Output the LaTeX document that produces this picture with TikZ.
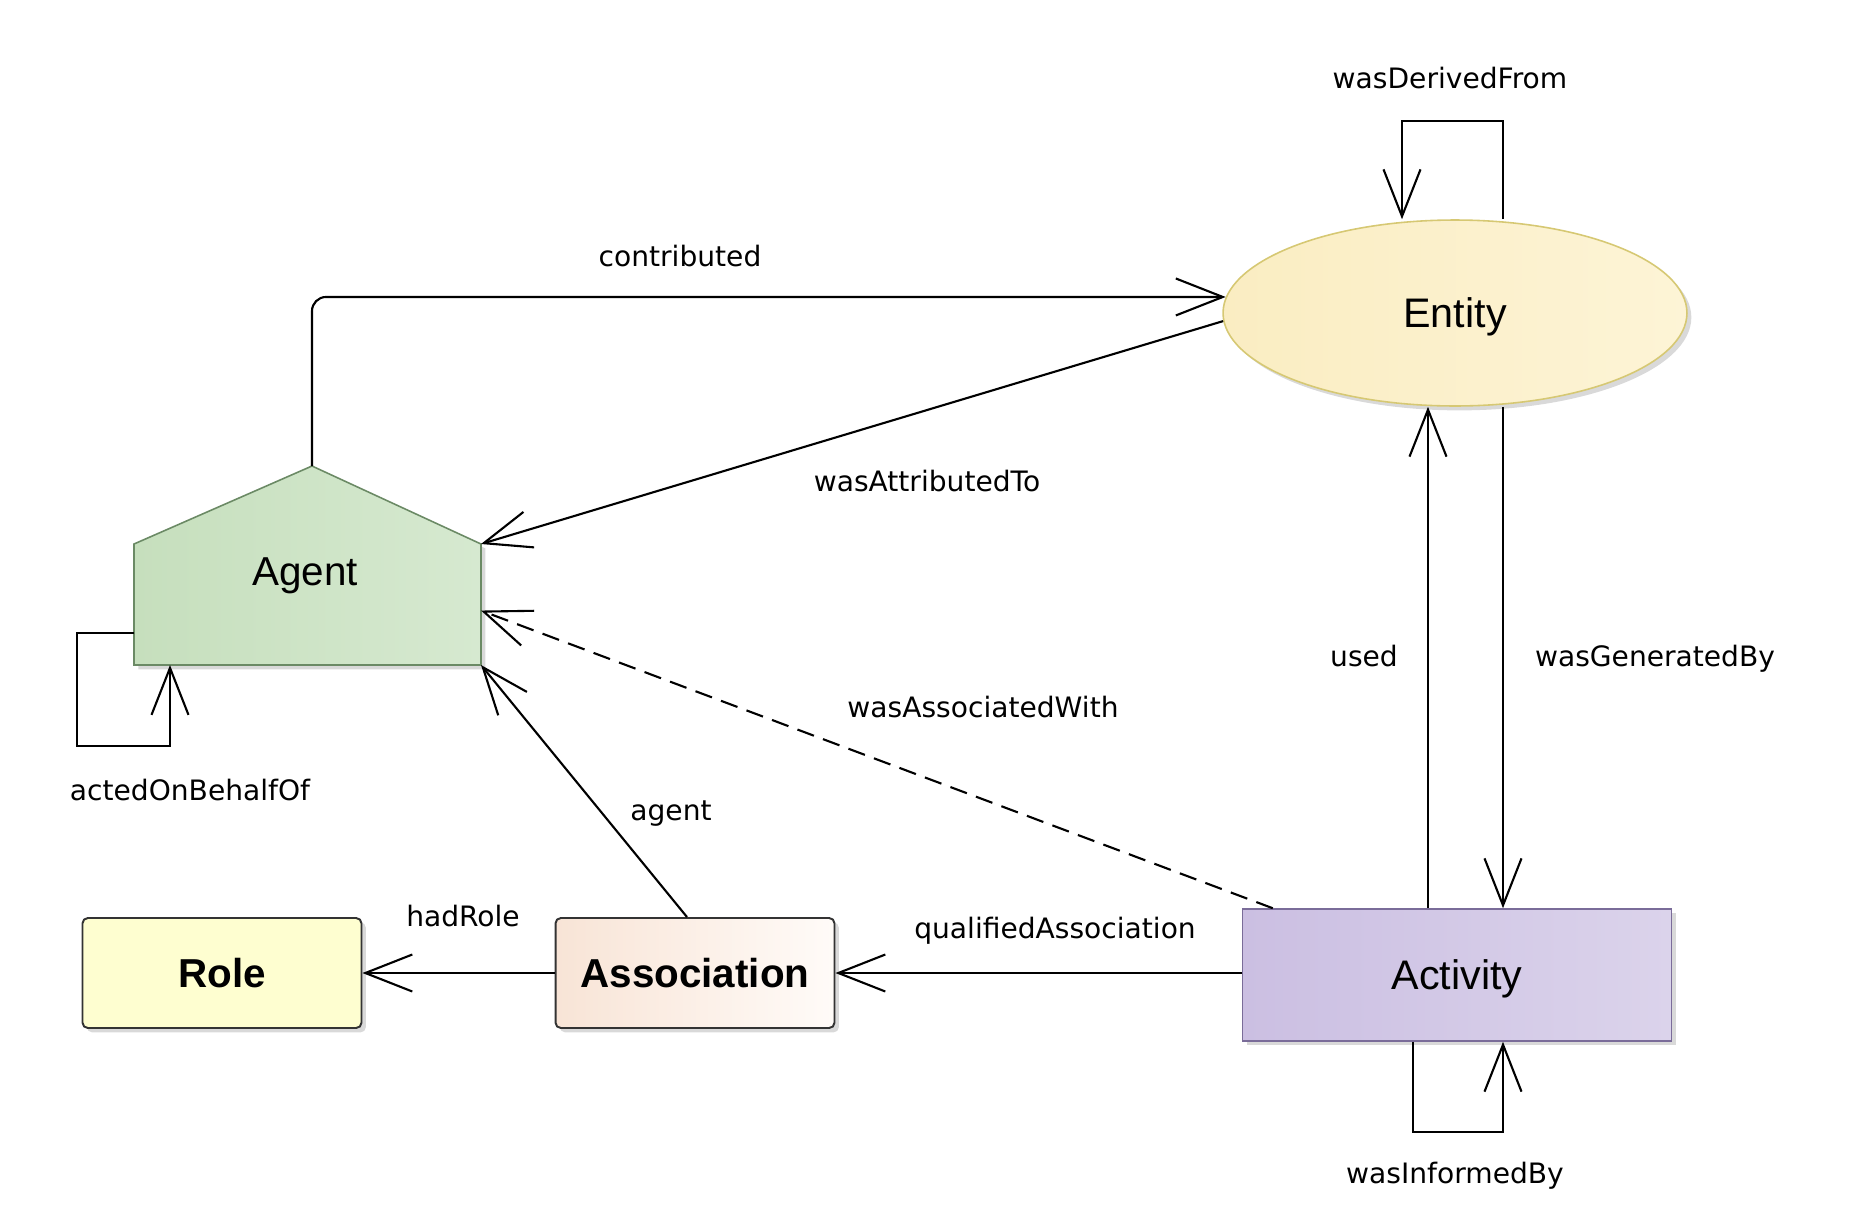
\documentclass[tikz,border=0pt]{standalone}
\usepackage{fontspec}
\setmainfont{Liberation Sans}
\newfontfamily\lblfont{DejaVu Sans}
\usepackage{tikz}
\usetikzlibrary{arrows.meta,positioning,calc,shadows,shapes.geometric}
\definecolor{EntFillL}{HTML}{FAEDC2}
\definecolor{EntFillR}{HTML}{FDF4D6}
\definecolor{EntLine}{HTML}{D6C873}
\definecolor{AgtFillL}{HTML}{C6DFBD}
\definecolor{AgtFillR}{HTML}{D6E9D0}
\definecolor{AgtLine}{HTML}{6B8A65}
\definecolor{ActFillL}{HTML}{CBBFE2}
\definecolor{ActFillR}{HTML}{DBD3EB}
\definecolor{ActLine}{HTML}{7A6C99}
\definecolor{RoleFill}{HTML}{FEFED0}
\definecolor{AssocFillL}{HTML}{F8E4D6}
\definecolor{AssocFillR}{HTML}{FFFBF8}

\begin{document}
\begin{tikzpicture}[x=0.02cm,y=-0.02cm,
  cls/.style={draw,inner sep=0pt,font=\fontsize{23.5}{28}\selectfont,text depth=0pt,
    drop shadow={shadow xshift=2.5pt,shadow yshift=-2.5pt,opacity=0.3}},
  boxcls/.style={cls,rectangle,rounded corners=3pt,line width=1.1pt,draw=black!80,
    minimum width=5.58cm,minimum height=2.2cm,font=\fontsize{23}{28}\selectfont\bfseries},
  lbl/.style={font=\lblfont\fontsize{16}{19}\selectfont,inner sep=1pt},
  rel/.style={-{Straight Barb[length=0.94cm,width=0.74cm]},line width=1.2pt}
]
\useasboundingbox (0,0) rectangle (1863,1224);

% classes
\node[cls,ellipse,draw=EntLine,line width=0.9pt,left color=EntFillL,right color=EntFillR,
  minimum width=9.28cm,minimum height=3.72cm] (entity) at (1455,313) {Entity};
\node[cls,rectangle,draw=ActLine,line width=0.9pt,left color=ActFillL,right color=ActFillR,
  minimum width=8.58cm,minimum height=2.64cm] (activity) at (1457,975) {Activity};
\node[boxcls,fill=RoleFill] (role) at (222,973) {Role};
\node[boxcls,left color=AssocFillL,right color=AssocFillR] (association) at (695,973) {Association};

% agent pentagon
\coordinate (agent-sw) at (134,665);
\coordinate (agent-nw) at (134,544);
\coordinate (agent-top) at (312,466);
\coordinate (agent-ne) at (481,544);
\coordinate (agent-se) at (481,665);
\draw[draw=AgtLine,line width=0.9pt,left color=AgtFillL,right color=AgtFillR,
  drop shadow={shadow xshift=2.5pt,shadow yshift=-2.5pt,opacity=0.3}]
  (agent-sw) -- (agent-nw) -- (agent-top) -- (agent-ne) -- (agent-se) -- cycle;
\node[font=\fontsize{23}{28}\selectfont,text depth=0pt] (agent) at (305,572) {Agent};

% loop corners
\coordinate (derl) at (1402,121);
\coordinate (derr) at (1503,121);
\coordinate (infl) at (1413,1132);
\coordinate (infr) at (1503,1132);
\coordinate (actl) at (77,746);
\coordinate (actr) at (170,746);
\coordinate (usedx) at (1428,0);

% relations
\draw[rel,rounded corners=8pt] (agent-top) |- (entity.176);
\draw[rel] (entity.182) -- (agent-ne);
\draw[rel,dash pattern=on 10pt off 5.5pt] ($(activity.north west)+(31,0)$) -- ($(agent-ne)!0.55!(agent-se)$);
\draw[rel] ($(association.north)+(-8,0)$) -- (agent-se);
\draw[rel] (association.west) -- (role.east);
\draw[rel] (association.east -| activity.west) -- (association.east);
\draw[rel] (activity.north -| usedx) -- (entity.south -| usedx);
\draw[rel] (entity.south -| derr) -- (activity.north -| derr);
\draw[rel] (entity.north -| derr) -- (derr) -- (derl) -- (entity.north -| derl);
\draw[rel] (activity.south -| infl) -- (infl) -- (infr) -- (activity.south -| infr);
\draw[rel] ($(agent-sw)+(0,-32)$) -| (actl) -- (actr) -- (actr |- agent-sw);

% labels
\node[lbl] (l-der) at (1450,78) {wasDerivedFrom};
\node[lbl] (l-contrib) at (680,256) {contributed};
\node[lbl] (l-attr) at (927,481) {wasAttributedTo};
\node[lbl] (l-assocw) at (983,707) {wasAssociatedWith};
\node[lbl] (l-agent) at (671,814) {agent};
\node[lbl] (l-role) at (463,916) {hadRole};
\node[lbl] (l-qual) at (1055,931) {qualifiedAssociation};
\node[lbl] (l-used) at (1364,656) {used};
\node[lbl] (l-gen) at (1655,659) {wasGeneratedBy};
\node[lbl] (l-inf) at (1455,1176) {wasInformedBy};
\node[lbl] (l-behalf) at (190,790) {actedOnBehalfOf};
\end{tikzpicture}
\end{document}
